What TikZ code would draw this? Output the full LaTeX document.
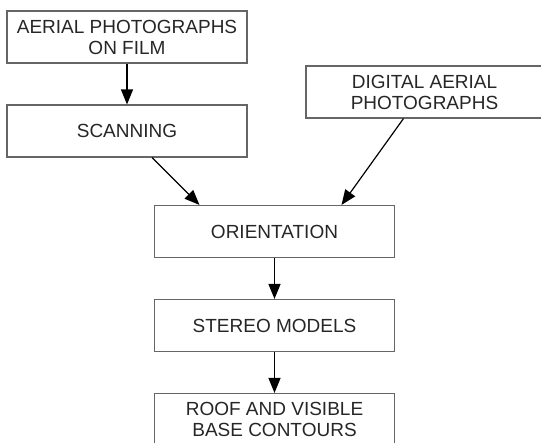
\documentclass[tikz,border=0pt]{standalone}
\usepackage{fontspec}
\setmainfont{Liberation Sans}
\usetikzlibrary{arrows.meta}

\begin{document}
\begin{tikzpicture}[
  x=1pt, y=1pt,
  stage/.style={draw=black!60, line width=1.1pt, align=center, text=black!85,
    minimum width=240pt, minimum height=52pt, inner sep=0pt,
    font=\fontsize{19}{21}\selectfont},
  flow/.style={-{Triangle[length=15pt,width=12pt]}, line width=1.2pt},
  node distance=94pt
]
\useasboundingbox (0,0) rectangle (541,443);
\node[stage] (film) at (127,406) {AERIAL PHOTOGRAPHS\\ON FILM};
\node[stage, below of=film] (scan) {SCANNING};
\node[stage, minimum width=237pt] (digital) at (424.5,351) {DIGITAL AERIAL\\PHOTOGRAPHS};
\node[stage] (orient) at (274.5,211.5) {ORIENTATION};
\node[stage, below of=orient] (stereo) {STEREO MODELS};
\node[stage, below of=stereo] (roof) {ROOF AND VISIBLE\\BASE CONTOURS};
\draw[flow] (film) -- (scan);
\draw[flow] ([xshift=25pt]scan.south) -- ([xshift=-75pt]orient.north);
\draw[flow] ([xshift=-21pt]digital.south) -- ([xshift=67pt]orient.north);
\draw[flow] (orient) -- (stereo);
\draw[flow] (stereo) -- (roof);
\end{tikzpicture}
\end{document}
